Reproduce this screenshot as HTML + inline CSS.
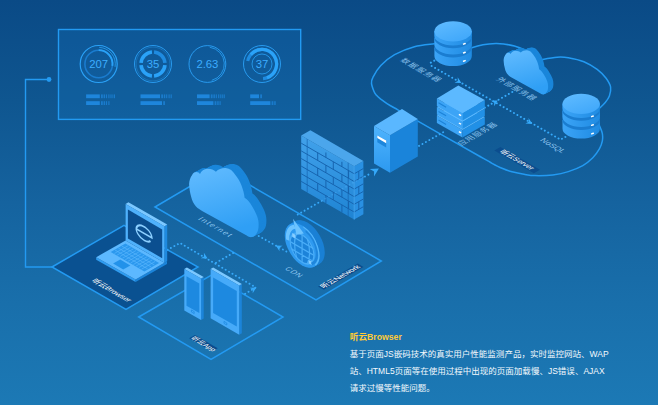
<!DOCTYPE html>
<html lang="zh"><head><meta charset="utf-8"><title>听云Browser</title>
<style>
html,body{margin:0;padding:0}
body{width:658px;height:405px;overflow:hidden;position:relative;background:#15639f;font-family:"Liberation Sans","Noto Sans CJK SC",sans-serif}
svg{position:absolute;left:0;top:0;display:block}
.txt{position:absolute;left:349.7px;top:329px;width:300px;color:#f4f9fd}
.txt h3{margin:0;font-size:8.7px;line-height:15px;font-weight:bold;color:#ffcb36;position:relative;top:1px}
.txt p{margin:1.5px 0 0 0;font-size:8.53px;line-height:17.2px;white-space:nowrap}
</style></head><body>
<svg width="658" height="405" viewBox="0 0 658 405"><defs>
<linearGradient id="bg" x1="0" y1="0" x2="0" y2="1"><stop offset="0" stop-color="#0a4a86"/><stop offset="0.25" stop-color="#0f5690"/><stop offset="0.5" stop-color="#15639f"/><stop offset="0.75" stop-color="#196fab"/><stop offset="1" stop-color="#1c79b5"/></linearGradient>
<linearGradient id="cl" x1="0" y1="0" x2="0.3" y2="1"><stop offset="0" stop-color="#63bcff"/><stop offset="1" stop-color="#2f9ff5"/></linearGradient>
<linearGradient id="dbtop" x1="0.2" y1="0" x2="0.8" y2="1"><stop offset="0" stop-color="#5ebaff"/><stop offset="1" stop-color="#3fa7fa"/></linearGradient>
<linearGradient id="dbside" x1="0" y1="0" x2="1" y2="0"><stop offset="0" stop-color="#3ba4f7"/><stop offset="1" stop-color="#1f8be2"/></linearGradient>
<linearGradient id="wall" x1="0" y1="0" x2="0" y2="1"><stop offset="0" stop-color="#46a8f2"/><stop offset="1" stop-color="#1f86d8"/></linearGradient>
<linearGradient id="twl" x1="0" y1="0" x2="0" y2="1"><stop offset="0" stop-color="#4fb3fd"/><stop offset="1" stop-color="#2c99f0"/></linearGradient>
</defs>
<rect width="658" height="405" fill="url(#bg)"/>
<path d="M49 79.5H25.5V267H52" fill="none" stroke="#239af2" stroke-width="1.4"/>
<circle cx="49" cy="79.5" r="2.4" fill="#239af2"/>
<rect x="58.5" y="29.5" width="242.2" height="89.9" fill="#1f96f0" fill-opacity="0.14" stroke="#229af2" stroke-width="1.4"/>
<g fill="none" stroke="#2aa2f8">
<circle cx="98.7" cy="64.0" r="18.5" stroke-width="1.2"/>
<path d="M99.28 47.41 A16.60 16.60 0 0 1 115.05 66.88" stroke-width="0.8"/>
<circle cx="98.7" cy="64.0" r="13.8" stroke-width="1.6" stroke="#1a7ccf"/>
<path d="M98.70 50.20 A13.80 13.80 0 0 1 112.37 65.92" stroke-width="1.8"/>
<circle cx="153.0" cy="64.0" r="18.5" stroke-width="0.9"/>
<circle cx="153.0" cy="64.0" r="16.9" stroke-width="0.6" stroke-opacity="0.55"/>
<path d="M154.05 52.05 A12.00 12.00 0 0 1 164.95 62.95" stroke-width="3.6" stroke="#1f8be0"/>
<path d="M164.95 65.05 A12.00 12.00 0 0 1 154.05 75.95" stroke-width="3.6" stroke="#2aa2f8"/>
<path d="M151.95 75.95 A12.00 12.00 0 0 1 141.05 65.05" stroke-width="3.6" stroke="#2aa2f8"/>
<path d="M141.05 62.95 A12.00 12.00 0 0 1 151.95 52.05" stroke-width="3.6" stroke="#2aa2f8"/>
<circle cx="207.4" cy="64.0" r="18.4" stroke-width="0.9"/>
<path d="M209.75 47.26 A16.90 16.90 0 0 1 211.77 80.32" stroke-width="0.8"/>
<circle cx="262.0" cy="64.0" r="18.5" stroke-width="0.9"/>
<path d="M247.72 60.96 A14.60 14.60 0 1 1 263.02 78.56" stroke-width="3.2" stroke="#1f8be0"/>
<path d="M250.82 54.62 A14.60 14.60 0 1 1 266.99 77.72" stroke-width="3.2"/>
<circle cx="262.0" cy="64.0" r="10" stroke-width="0.8"/>
</g>
<g font-family="Liberation Sans, sans-serif" font-size="11.3" fill="#3dadff" text-anchor="middle">
<text x="98.7" y="68.1">207</text>
<text x="153.0" y="68.1">35</text>
<text x="207.4" y="68.1">2.63</text>
<text x="262.0" y="68.1">37</text>
</g>
<rect x="86.1" y="94.4" width="13.7" height="3.8" fill="#1e86dc"/>
<rect x="101.0" y="94.4" width="1.8" height="3.8" fill="#1e86dc" fill-opacity="0.75"/>
<rect x="103.6" y="94.4" width="1.5" height="3.8" fill="#1e86dc" fill-opacity="0.75"/>
<rect x="105.9" y="94.4" width="1.2" height="3.8" fill="#1e86dc" fill-opacity="0.75"/>
<rect x="108.3" y="94.4" width="1.2" height="3.8" fill="#1e86dc" fill-opacity="0.75"/>
<rect x="110.4" y="94.4" width="1.2" height="3.8" fill="#1e86dc" fill-opacity="0.75"/>
<rect x="112.4" y="94.4" width="0.8" height="3.8" fill="#1e86dc" fill-opacity="0.75"/>
<rect x="113.8" y="94.4" width="1.2" height="3.8" fill="#1e86dc" fill-opacity="0.75"/>
<rect x="86.1" y="101.2" width="13.7" height="3.8" fill="#1e86dc"/>
<rect x="101.0" y="101.2" width="1.8" height="3.8" fill="#1e86dc" fill-opacity="0.75"/>
<rect x="103.6" y="101.2" width="1.5" height="3.8" fill="#1e86dc" fill-opacity="0.75"/>
<rect x="105.9" y="101.2" width="1.2" height="3.8" fill="#1e86dc" fill-opacity="0.75"/>
<rect x="108.3" y="101.2" width="1.2" height="3.8" fill="#1e86dc" fill-opacity="0.75"/>
<rect x="140.5" y="94.4" width="19.5" height="3.8" fill="#1e86dc"/>
<rect x="161.2" y="94.4" width="1.8" height="3.8" fill="#1e86dc" fill-opacity="0.75"/>
<rect x="163.8" y="94.4" width="1.5" height="3.8" fill="#1e86dc" fill-opacity="0.75"/>
<rect x="166.1" y="94.4" width="1.2" height="3.8" fill="#1e86dc" fill-opacity="0.75"/>
<rect x="168.5" y="94.4" width="1.2" height="3.8" fill="#1e86dc" fill-opacity="0.75"/>
<rect x="170.6" y="94.4" width="1.2" height="3.8" fill="#1e86dc" fill-opacity="0.75"/>
<rect x="140.5" y="101.2" width="21.5" height="3.8" fill="#1e86dc"/>
<rect x="163.2" y="101.2" width="1.8" height="3.8" fill="#1e86dc" fill-opacity="0.75"/>
<rect x="197.0" y="94.4" width="12.6" height="3.8" fill="#1e86dc"/>
<rect x="210.8" y="94.4" width="1.8" height="3.8" fill="#1e86dc" fill-opacity="0.75"/>
<rect x="213.4" y="94.4" width="1.5" height="3.8" fill="#1e86dc" fill-opacity="0.75"/>
<rect x="215.7" y="94.4" width="1.2" height="3.8" fill="#1e86dc" fill-opacity="0.75"/>
<rect x="218.1" y="94.4" width="1.2" height="3.8" fill="#1e86dc" fill-opacity="0.75"/>
<rect x="220.2" y="94.4" width="1.2" height="3.8" fill="#1e86dc" fill-opacity="0.75"/>
<rect x="222.2" y="94.4" width="0.8" height="3.8" fill="#1e86dc" fill-opacity="0.75"/>
<rect x="223.6" y="94.4" width="1.2" height="3.8" fill="#1e86dc" fill-opacity="0.75"/>
<rect x="197.0" y="101.2" width="16.4" height="3.8" fill="#1e86dc"/>
<rect x="214.6" y="101.2" width="1.8" height="3.8" fill="#1e86dc" fill-opacity="0.75"/>
<rect x="217.2" y="101.2" width="1.5" height="3.8" fill="#1e86dc" fill-opacity="0.75"/>
<rect x="219.5" y="101.2" width="1.2" height="3.8" fill="#1e86dc" fill-opacity="0.75"/>
<rect x="250.2" y="94.4" width="8.8" height="3.8" fill="#1e86dc"/>
<rect x="260.2" y="94.4" width="1.8" height="3.8" fill="#1e86dc" fill-opacity="0.75"/>
<rect x="250.2" y="101.2" width="20.2" height="3.8" fill="#1e86dc"/>
<rect x="271.6" y="101.2" width="1.8" height="3.8" fill="#1e86dc" fill-opacity="0.75"/>
<rect x="274.2" y="101.2" width="1.5" height="3.8" fill="#1e86dc" fill-opacity="0.75"/>
<path d="M480.0 156.5C468.3 149.9 423.3 124.3 410.0 116.7C396.7 109.1 402.6 112.5 400.0 111.1C397.4 109.6 396.8 109.2 394.6 108.0C392.4 106.8 389.3 105.1 387.0 103.6C384.7 102.1 382.6 100.6 380.8 99.2C379.1 97.8 377.6 96.6 376.5 95.3C375.4 94.0 374.7 93.3 373.9 91.3C373.1 89.3 371.7 85.7 371.5 83.4C371.3 81.1 371.3 80.4 372.9 77.4C374.4 74.4 377.2 69.4 380.8 65.6C384.4 61.8 389.0 57.8 394.6 54.7C400.2 51.6 407.8 48.6 414.4 46.8C421.0 45.0 429.9 44.4 434.2 43.8C438.5 43.2 439.0 43.4 440.0 43.3" fill="none" stroke="#239af2" stroke-width="1.5" stroke-linecap="round"/>
<path d="M466.0 50.5C467.0 50.0 469.0 48.8 471.8 47.8C474.6 46.8 479.0 45.4 483.0 44.7C487.0 44.0 492.2 43.6 495.9 43.5C499.6 43.4 501.9 43.8 505.0 44.2C508.1 44.6 511.0 45.0 514.4 46.0C517.8 47.0 522.9 49.1 525.5 50.3C528.1 51.5 529.2 52.5 530.0 53.0" fill="none" stroke="#239af2" stroke-width="1.5" stroke-linecap="round"/>
<path d="M538.0 60.6C538.8 60.4 539.6 60.0 542.8 59.4C546.0 58.8 553.0 57.5 557.2 57.2C561.5 56.9 563.8 57.0 568.3 57.7C572.8 58.5 579.1 59.8 583.9 61.7C588.7 63.7 593.5 66.6 597.2 69.4C600.9 72.2 603.9 75.3 606.1 78.3C608.3 81.3 610.1 84.2 610.6 87.2C611.1 90.2 610.3 93.5 609.4 96.1C608.5 98.7 606.7 100.8 605.0 102.8C603.3 104.8 600.9 106.9 599.4 108.3C597.9 109.7 596.6 110.5 596.0 111.0" fill="none" stroke="#239af2" stroke-width="1.5" stroke-linecap="round"/>
<path d="M597.0 120.0C597.4 120.9 598.5 123.4 599.4 125.6C600.3 127.8 601.8 130.7 602.3 133.3C602.8 135.9 602.8 138.5 602.3 141.1C601.8 143.7 601.0 146.1 599.4 148.9C597.8 151.7 595.6 155.0 592.8 157.8C590.0 160.6 586.9 163.3 582.8 165.6C578.7 167.9 573.3 170.0 568.3 171.6C563.3 173.2 558.3 174.2 552.8 174.9C547.2 175.6 539.8 175.7 535.0 175.6C530.2 175.5 527.8 174.9 524.0 174.3C520.2 173.7 515.7 172.8 512.0 171.8C508.3 170.8 505.3 169.7 502.0 168.3C498.7 166.9 495.7 165.3 492.0 163.3C488.3 161.3 482.0 157.6 480.0 156.5" fill="none" stroke="#239af2" stroke-width="1.5" stroke-linecap="round"/>
<polygon points="155.0,207.0 220.6,168.3 381.3,261.0 316.0,300.0" fill="none" stroke="#239af2" stroke-width="1.5"/>
<polygon points="138.7,317.0 211.0,275.3 283.0,317.0 211.0,359.3" fill="none" stroke="#239af2" stroke-width="1.5"/>
<polygon points="52.0,267.0 124.0,225.3 198.0,267.0 126.0,309.3" fill="#0a5191" stroke="#239af2" stroke-width="1.5"/>
<path d="M167.4 249.8L180 243L255.8 287.4L243.4 294.9" fill="none" stroke="#36a9fa" stroke-width="1.9" stroke-dasharray="0.1 3.85" stroke-linecap="round"/>
<path d="M216 262.8L233.4 252.8" fill="none" stroke="#36a9fa" stroke-width="1.9" stroke-dasharray="0.1 3.85" stroke-linecap="round"/>
<polygon points="207.6,258.5 200.7,258.2 204.0,256.4 203.9,252.7" fill="#35a9fa" />
<polygon points="256.4,287.4 252.7,293.2 252.8,289.5 249.5,287.7" fill="#35a9fa" />
<path d="M258.7 236L288.6 252.7" fill="none" stroke="#36a9fa" stroke-width="1.9" stroke-dasharray="0.1 3.85" stroke-linecap="round"/>
<polygon points="275.8,245.4 282.7,245.7 279.4,247.5 279.5,251.2" fill="#35a9fa" />
<path d="M297.7 214.6L322 200.6" fill="none" stroke="#36a9fa" stroke-width="1.9" stroke-dasharray="0.1 3.85" stroke-linecap="round"/>
<path d="M364.9 176.6L370 173.7" fill="none" stroke="#36a9fa" stroke-width="1.9" stroke-dasharray="0.1 3.85" stroke-linecap="round"/>
<polygon points="378.9,168.6 374.0,176.5 374.1,171.4 369.7,169.0" fill="#35a9fa" />
<path d="M419 145.9L446.4 130.4" fill="none" stroke="#36a9fa" stroke-width="1.9" stroke-dasharray="0.1 3.85" stroke-linecap="round"/>
<path d="M434.3 60.6L430.5 62.8L431 65.6L560.5 139.6L568 135.5" fill="none" stroke="#36a9fa" stroke-width="1.9" stroke-dasharray="0.1 3.85" stroke-linecap="round"/>
<polygon points="461.4,83.0 454.5,82.7 457.8,80.9 457.7,77.2" fill="#35a9fa" />
<polygon points="532.3,123.9 525.4,123.6 528.7,121.8 528.6,118.1" fill="#35a9fa" />
<path d="M484.8 107.6L514.7 90.6" fill="none" stroke="#36a9fa" stroke-width="1.9" stroke-dasharray="0.1 3.85" stroke-linecap="round"/>
<polygon points="497.8,100.4 494.1,106.2 494.2,102.5 490.9,100.7" fill="#35a9fa" />
<path d="M434.4 47.4v8.6a18.7 10.1 0 0 0 37.4 0v-8.6z" fill="url(#dbside)"/>
<rect x="462.8" y="60.2" width="3.1" height="1.5" rx="0.6" fill="#fff" transform="rotate(-20 464.3 61.0)"/>
<path d="M434.4 38.1v9.3a18.7 10.1 0 0 0 37.4 0v-9.3z" fill="#1a7dd1"/>
<path d="M434.4 38.1v6.2a18.7 10.1 0 0 0 37.4 0v-6.2z" fill="url(#dbside)"/>
<rect x="462.8" y="51.9" width="3.1" height="1.5" rx="0.6" fill="#fff" transform="rotate(-20 464.3 52.6)"/>
<path d="M434.4 31.3v6.8a18.7 10.1 0 0 0 37.4 0v-6.8z" fill="#1a7dd1"/>
<path d="M434.4 31.3v4.1a18.7 10.1 0 0 0 37.4 0v-4.1z" fill="url(#dbside)"/>
<rect x="462.8" y="43.1" width="3.1" height="1.5" rx="0.6" fill="#fff" transform="rotate(-20 464.3 43.9)"/>
<ellipse cx="453.1" cy="31.3" rx="18.7" ry="10.1" fill="url(#dbtop)"/>
<defs><path id="cf" d="M189.1 184.1C189.3 180.5 190.3 177.5 192 175.2C193 173 194.5 172 196.4 172C198 172 199.2 172.8 200 174C201.5 170.8 204 168.9 207.3 168.8C210.8 168.7 213.8 169.8 215.9 171.7C218.5 169 222 167.8 225.7 168C229.8 168.3 233 171 235.2 174.7C237.8 178 240 181.5 241.4 185.2C243 189.5 244.2 193.5 244.6 197.7C247.5 199.5 250 202.5 251.9 206.1C254 209.5 256 213 257.2 216.6C258.2 219.5 258.7 222 258.6 225C258.6 228.5 258 231.5 256.5 233.4C255.3 235.3 253.8 236.7 251.9 237.1C250 237.4 248.3 236.6 246.7 235.5L203 211.5C200 209.8 198 208.5 196 206.5C193.5 203.5 192 200.5 191.2 196.9C190 193 189.3 188.5 189.1 184.1Z"/></defs>
<g transform="translate(503.6 60.5) scale(0.640) translate(-189.1 -184.1)">
<g fill="#1a86da">
<use href="#cf" x="8.30" y="-4.20"/>
<use href="#cf" x="7.38" y="-3.73"/>
<use href="#cf" x="6.46" y="-3.27"/>
<use href="#cf" x="5.53" y="-2.80"/>
<use href="#cf" x="4.61" y="-2.33"/>
<use href="#cf" x="3.69" y="-1.87"/>
<use href="#cf" x="2.77" y="-1.40"/>
<use href="#cf" x="1.84" y="-0.93"/>
<use href="#cf" x="0.92" y="-0.47"/>
</g>
<use href="#cf" fill="url(#cl)"/>
</g>
<polygon points="436.9,115.6 462.5,130.1 462.5,137.5 436.9,123.0" fill="#3ca4f6" />
<polygon points="462.5,130.1 484.8,117.1 484.8,124.5 462.5,137.5" fill="#2190e6" />
<polygon points="436.9,115.6 458.3,102.6 484.8,117.1 462.5,130.1" fill="#5cb9ff" />
<path d="M438.5 120.0l7.6 4.4" stroke="#1c83d8" stroke-width="1.2"/>
<path d="M458.9 131.6l2.2 1.27" stroke="#fff" stroke-width="1.3"/>
<polygon points="436.9,107.0 462.5,121.5 462.5,129.1 436.9,114.6" fill="#3ca4f6" />
<polygon points="462.5,121.5 484.8,108.5 484.8,116.1 462.5,129.1" fill="#2190e6" />
<polygon points="436.9,107.0 458.3,94.0 484.8,108.5 462.5,121.5" fill="#5cb9ff" />
<path d="M438.5 111.4l7.6 4.4" stroke="#1c83d8" stroke-width="1.2"/>
<path d="M458.9 123.0l2.2 1.27" stroke="#fff" stroke-width="1.3"/>
<polygon points="436.9,98.4 462.5,112.9 462.5,120.5 436.9,106.0" fill="#3ca4f6" />
<polygon points="462.5,112.9 484.8,99.9 484.8,107.5 462.5,120.5" fill="#2190e6" />
<polygon points="436.9,98.4 458.3,85.4 484.8,99.9 462.5,112.9" fill="#5cb9ff" />
<path d="M438.5 102.8l7.6 4.4" stroke="#1c83d8" stroke-width="1.2"/>
<path d="M458.9 114.4l2.2 1.27" stroke="#fff" stroke-width="1.3"/>
<path d="M562.5 119.9v8.6a18.7 10.1 0 0 0 37.4 0v-8.6z" fill="url(#dbside)"/>
<rect x="590.9" y="132.8" width="3.1" height="1.5" rx="0.6" fill="#fff" transform="rotate(-20 592.4 133.5)"/>
<path d="M562.5 110.6v9.3a18.7 10.1 0 0 0 37.4 0v-9.3z" fill="#1a7dd1"/>
<path d="M562.5 110.6v6.2a18.7 10.1 0 0 0 37.4 0v-6.2z" fill="url(#dbside)"/>
<rect x="590.9" y="124.3" width="3.1" height="1.5" rx="0.6" fill="#fff" transform="rotate(-20 592.4 125.1)"/>
<path d="M562.5 103.8v6.8a18.7 10.1 0 0 0 37.4 0v-6.8z" fill="#1a7dd1"/>
<path d="M562.5 103.8v4.1a18.7 10.1 0 0 0 37.4 0v-4.1z" fill="url(#dbside)"/>
<rect x="590.9" y="115.6" width="3.1" height="1.5" rx="0.6" fill="#fff" transform="rotate(-20 592.4 116.4)"/>
<ellipse cx="581.2" cy="103.8" rx="18.7" ry="10.1" fill="url(#dbtop)"/>
<polygon points="374.0,126.0 390.0,135.3 390.0,172.8 374.0,163.5" fill="url(#twl)" />
<polygon points="390.0,135.3 417.8,119.0 417.8,156.5 390.0,172.8" fill="#1a84da" />
<polygon points="374.0,126.0 402.0,109.0 417.8,119.0 390.0,135.3" fill="#5ab7ff" />
<polygon points="377.3,135.5 386.2,140.6 386.2,147.4 377.3,142.3" fill="#1d86dc" />
<polygon points="377.3,135.5 386.2,140.6 386.2,143.2 377.3,138.1" fill="#fff" />
<g opacity="0.93">
<polygon points="301.2,135.6 354.2,166.2 354.2,219.6 301.2,189.0" fill="url(#wall)" />
<polygon points="354.2,166.2 363.4,160.9 363.4,214.3 354.2,219.6" fill="#2b94e8" />
<polygon points="301.2,135.6 310.4,130.3 363.4,160.9 354.2,166.2" fill="#50acf3" />
</g>
<g stroke="#1562ad" stroke-width="0.95" fill="none">
<path d="M301.2 143.2L354.2 173.8L363.4 168.5"/>
<path d="M301.2 150.9L354.2 181.5L363.4 176.2"/>
<path d="M301.2 158.5L354.2 189.1L363.4 183.8"/>
<path d="M301.2 166.1L354.2 196.7L363.4 191.4"/>
<path d="M301.2 173.7L354.2 204.3L363.4 199.0"/>
<path d="M301.2 181.4L354.2 212.0L363.4 206.7"/>
<path d="M325.9 152.5v5.0"/>
<path d="M341.9 161.8v5.0"/>
<path d="M317.7 152.8v7.6"/>
<path d="M333.3 161.8v7.6"/>
<path d="M348.6 170.6v7.6"/>
<path d="M358.8 171.2v7.6"/>
<path d="M325.9 165.1v7.6"/>
<path d="M341.9 174.4v7.6"/>
<path d="M317.7 168.0v7.6"/>
<path d="M333.3 177.0v7.6"/>
<path d="M348.6 185.9v7.6"/>
<path d="M358.8 186.4v7.6"/>
<path d="M325.9 180.4v7.6"/>
<path d="M341.9 189.6v7.6"/>
<path d="M317.7 183.3v7.6"/>
<path d="M333.3 192.3v7.6"/>
<path d="M348.6 201.1v7.6"/>
<path d="M358.8 201.7v7.6"/>
<path d="M325.9 195.6v7.6"/>
<path d="M341.9 204.9v7.6"/>
<path d="M307.2 139.1v53.4" stroke-opacity="0.7"/>
<path d="M348.2 162.7v53.4" stroke-opacity="0.7"/>
<path d="M354.2 166.2v53.4" stroke="#4aa9f4" stroke-opacity="0.8"/>
</g>
<path d="M322 200.6L364 176.4" fill="none" stroke="#5ab8ff" stroke-opacity="0.35" stroke-width="1.8" stroke-dasharray="0.1 3.85" stroke-linecap="round"/>
<g transform="translate(189.1 184.1) scale(1.000) translate(-189.1 -184.1)">
<g fill="#1a86da">
<use href="#cf" x="7.80" y="-4.10"/>
<use href="#cf" x="6.93" y="-3.64"/>
<use href="#cf" x="6.07" y="-3.19"/>
<use href="#cf" x="5.20" y="-2.73"/>
<use href="#cf" x="4.33" y="-2.28"/>
<use href="#cf" x="3.47" y="-1.82"/>
<use href="#cf" x="2.60" y="-1.37"/>
<use href="#cf" x="1.73" y="-0.91"/>
<use href="#cf" x="0.87" y="-0.46"/>
</g>
<use href="#cf" fill="url(#cl)"/>
</g>
<circle r="20.0" fill="#1a80d5" transform="matrix(0.866 0.5 0 1 307.42 242.49)"/>
<circle r="20.0" fill="#1a80d5" transform="matrix(0.866 0.5 0 1 306.66 242.92)"/>
<circle r="20.0" fill="#1a80d5" transform="matrix(0.866 0.5 0 1 305.90 243.35)"/>
<circle r="20.0" fill="#1a80d5" transform="matrix(0.866 0.5 0 1 305.14 243.78)"/>
<circle r="20.0" fill="#1a80d5" transform="matrix(0.866 0.5 0 1 304.38 244.21)"/>
<circle r="20.0" fill="#1a80d5" transform="matrix(0.866 0.5 0 1 303.62 244.64)"/>
<circle r="20.0" fill="#1a80d5" transform="matrix(0.866 0.5 0 1 302.86 245.07)"/>
<g transform="matrix(0.866 0.5 0 1 302.1 245.5)">
<circle r="20.0" fill="#2e9af0"/>
<circle cx="0" cy="3" r="13.7" fill="#1c83d9"/>
<g stroke="#49adf8" stroke-width="1.4" fill="none"><circle cx="0" cy="3" r="13.7"/><path d="M-13 -3.5H13M-13.5 3H13.5M-12 9.5H12M-6 -9.5C-9.5 -3 -9.5 8 -6 15.5M0 -10.5V16.5M6 -9.5C9.5 -3 9.5 8 6 15.5"/></g>
<rect x="-11.4" y="-6.8" width="3.6" height="3.6" fill="#86cdff"/><rect x="7.6" y="10.6" width="3.4" height="3.4" fill="#86cdff"/>
<path d="M4.11 -16.50 A17.00 17.00 0 0 1 10.93 13.02" fill="none" stroke="#1f86dc" stroke-width="2.4"/>
<path d="M1.35 -19.25 A19.30 19.30 0 0 1 15.21 11.88" fill="none" stroke="#56b6fb" stroke-width="1.4"/>
<path d="M-16.54 2.92 A16.80 16.80 0 0 1 -8.40 -14.55" fill="none" stroke="#6cc3ff" stroke-width="3.8"/>
<path d="M-10.5 -21.5L2 -13L-6.5 -7.5Z" fill="#6cc3ff"/>
</g>
<polygon points="96.2,257.2 135.6,279.4 135.6,282.0 96.2,259.8" fill="#2f9cf0" />
<polygon points="135.6,279.4 164.4,262.8 167.0,261.3 167.0,263.9 135.6,282.0" fill="#1b84da" />
<polygon points="96.2,257.2 125.6,240.4 164.4,262.8 135.6,279.4" fill="#5cb8ff" />
<polygon points="125.4,243.6 159.1,263.1 144.4,271.5 110.7,252.0" fill="#2b98ee" />
<g stroke="#5cb8ff" stroke-width="0.6">
<path d="M127.9 245.8L114.4 253.5"/>
<path d="M130.6 247.3L117.1 255.1"/>
<path d="M133.3 248.9L119.8 256.6"/>
<path d="M136.0 250.5L122.5 258.2"/>
<path d="M138.8 252.0L125.2 259.8"/>
<path d="M141.5 253.6L127.9 261.3"/>
<path d="M144.2 255.2L130.7 262.9"/>
<path d="M146.9 256.8L133.4 264.5"/>
<path d="M149.6 258.3L136.1 266.0"/>
<path d="M152.3 259.9L138.8 267.6"/>
<path d="M155.1 261.5L141.5 269.2"/>
<path d="M121.8 246.1L154.4 265.0"/>
<path d="M118.4 248.1L151.0 266.9"/>
<path d="M115.0 250.0L147.6 268.8"/>
</g>
<polygon points="120.2,259.6 130.3,265.4 123.2,269.4 113.1,263.6" fill="#2292ea" />
<polygon points="164.4,226.2 167.2,224.6 167.2,261.2 164.4,262.8" fill="#1f8ae0" />
<polygon points="125.6,203.9 128.4,202.3 167.2,224.6 164.4,226.2" fill="#7cc8ff" />
<polygon points="125.6,203.9 164.4,226.2 164.4,262.8 125.6,240.4" fill="#4fb1fc" />
<polygon points="127.9,209.6 162.2,229.4 162.2,258.2 127.9,238.4" fill="#0b4f90" />
<path d="M-9 0H9A9 6.8 0 1 0 7.4 3.9" transform="matrix(0.866 0.5 0 1 144.1 233.4)" fill="none" stroke="#8ccfff" stroke-width="1.8"/>
<polygon points="201.1,278.4 203.7,276.9 203.7,318.4 201.1,319.9" fill="#1b84da" />
<polygon points="184.3,268.9 186.9,267.4 203.7,276.9 201.1,278.4" fill="#7cc8ff" />
<polygon points="184.3,268.9 201.1,278.4 201.1,319.9 184.3,310.4" fill="#46aaf9" />
<polygon points="186.5,276.2 199.3,283.5 199.3,313.1 186.5,305.8" fill="#1d89e0" />
<rect x="-1.6" y="-1" width="3.2" height="2" fill="none" stroke="#1d89e0" stroke-width="0.7" transform="matrix(0.866 0.5 0 1 192.8 311.8)"/>
<polygon points="239.2,285.5 241.8,284.0 241.8,333.3 239.2,334.8" fill="#1b84da" />
<polygon points="210.6,268.9 213.2,267.4 241.8,284.0 239.2,285.5" fill="#7cc8ff" />
<polygon points="210.6,268.9 239.2,285.5 239.2,334.8 210.6,318.3" fill="#46aaf9" />
<polygon points="213.1,277.4 236.8,291.0 236.8,326.5 213.1,312.9" fill="#1d89e0" />
<rect x="-1.6" y="-1" width="3.2" height="2" fill="none" stroke="#1d89e0" stroke-width="0.7" transform="matrix(0.866 0.5 0 1 225.4 323.2)"/>
<text transform="matrix(0.866 0.5 -0.866 0.5 399.6 60.6)" font-family="Liberation Sans, Noto Sans CJK SC, sans-serif" font-size="8" fill="#9ad0f8" letter-spacing="0.9" fill-opacity="0.85">数据服务器</text>
<text transform="matrix(0.866 0.5 -0.866 0.5 495.6 79.4)" font-family="Liberation Sans, Noto Sans CJK SC, sans-serif" font-size="8" fill="#9ad0f8" letter-spacing="0.7" fill-opacity="0.85">外部服务器</text>
<text transform="matrix(0.866 -0.5 0.866 0.5 461.5 146.0)" font-family="Liberation Sans, Noto Sans CJK SC, sans-serif" font-size="8" fill="#9ad0f8" letter-spacing="0.5" fill-opacity="0.85">应用服务器</text>
<text transform="matrix(0.866 0.5 -0.866 0.5 539.6 140.6)" font-family="Liberation Sans, Noto Sans CJK SC, sans-serif" font-size="7.9" fill="#9ad0f8" letter-spacing="0" fill-opacity="0.9">NoSQL</text>
<rect x="0" y="-7.0" width="45.7" height="7.0" fill="#0b4d8e" transform="matrix(0.866 0.5 -0.866 0.5 494.3 150.4)"/>
<text transform="matrix(0.866 0.5 -0.866 0.5 499.1 151.9)" font-family="Liberation Sans, Noto Sans CJK SC, sans-serif" font-size="7.4" fill="#fff" letter-spacing="0" >听云Server</text>
<text transform="matrix(0.866 0.5 -0.866 0.5 197.6 219.2)" font-family="Liberation Sans, Noto Sans CJK SC, sans-serif" font-size="8" fill="#9ad0f8" letter-spacing="1.25" fill-opacity="0.9">Internet</text>
<text transform="matrix(0.866 0.5 -0.866 0.5 284.2 269.0)" font-family="Liberation Sans, Noto Sans CJK SC, sans-serif" font-size="7.5" fill="#9ad0f8" letter-spacing="0.6" fill-opacity="0.9">CDN</text>
<rect x="0" y="-6.6" width="45.8" height="6.6" fill="#0b4d8e" transform="matrix(0.866 -0.5 0.866 0.5 323.8 289.8)"/>
<text transform="matrix(0.866 -0.5 0.866 0.5 323.9 288.5)" font-family="Liberation Sans, Noto Sans CJK SC, sans-serif" font-size="7.55" fill="#fff" letter-spacing="0" >听云Network</text>
<text transform="matrix(0.866 0.5 -0.866 0.5 91.0 281.0)" font-family="Liberation Sans, Noto Sans CJK SC, sans-serif" font-size="7.55" fill="#fff" letter-spacing="0" >听云Browser</text>
<rect x="0" y="-6.7" width="26.4" height="6.7" fill="#0b4d8e" transform="matrix(0.866 0.5 -0.866 0.5 189.1 338.3)"/>
<text transform="matrix(0.866 0.5 -0.866 0.5 190.2 338.6)" font-family="Liberation Sans, Noto Sans CJK SC, sans-serif" font-size="6.9" fill="#fff" letter-spacing="0" >听云App</text></svg>
<div class="txt"><h3>听云Browser</h3>
<p>基于页面JS嵌码技术的真实用户性能监测产品，实时监控网站、WAP<br>站、HTML5页面等在使用过程中出现的页面加载慢、JS错误、AJAX<br>请求过慢等性能问题。</p></div>
</body></html>
